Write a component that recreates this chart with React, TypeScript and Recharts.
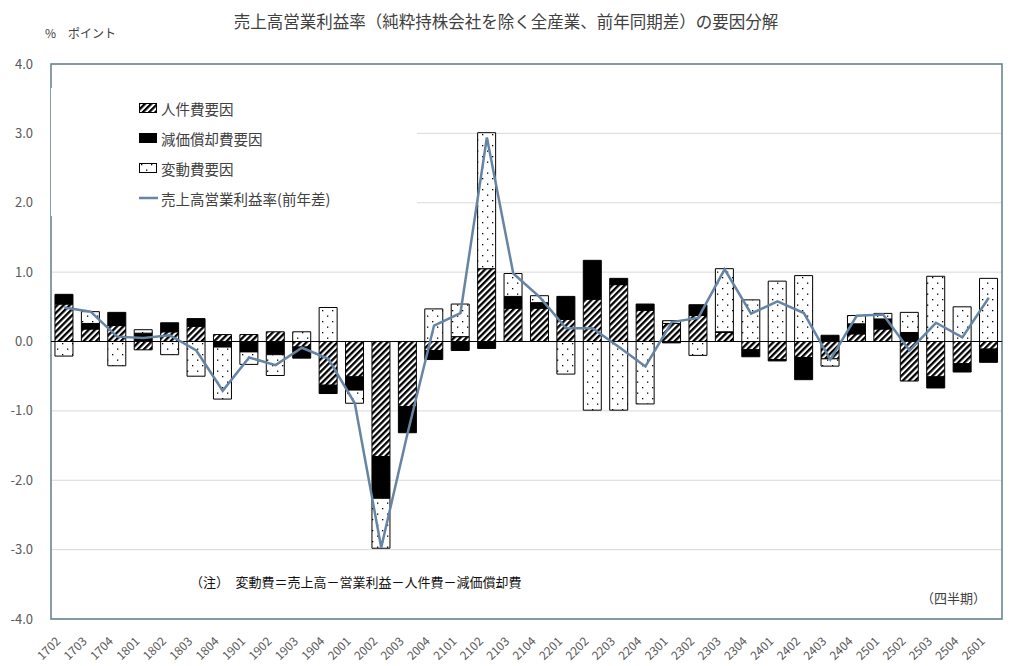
import {
  ComposedChart,
  Bar,
  Line,
  XAxis,
  YAxis,
  CartesianGrid,
  ReferenceLine,
  ReferenceArea,
  Legend,
} from "recharts";

const quarters = [
  "1702", "1703", "1704", "1801", "1802", "1803", "1804", "1901", "1902",
  "1903", "1904", "2001", "2002", "2003", "2004", "2101", "2102", "2103",
  "2104", "2201", "2202", "2203", "2204", "2301", "2302", "2303", "2304",
  "2401", "2402", "2403", "2404", "2501", "2502", "2503", "2504", "2601",
];

// 人件費要因
const laborCost = [
  0.54, 0.18, 0.23, -0.12, 0.14, 0.22, 0.1, 0.1, 0.14,
  -0.08, -0.63, -0.51, -1.66, -0.94, -0.13, 0.07, 1.05, 0.48,
  0.48, 0.32, 0.61, 0.82, 0.45, 0.26, 0.375, 0.13, -0.12,
  -0.26, -0.23, -0.25, 0.11, 0.18, -0.57, -0.51, -0.32, -0.11,
];

// 減価償却費要因
const depreciation = [
  0.14, 0.08, 0.19, 0.12, 0.13, 0.11, -0.08, -0.15, -0.19,
  -0.16, -0.12, -0.19, -0.6, -0.375, -0.13, -0.13, -0.1, 0.17,
  0.08, 0.33, 0.56, 0.09, 0.09, -0.02, 0.155, 0.01, -0.1,
  -0.02, -0.32, 0.09, 0.145, 0.145, 0.13, -0.16, -0.12, -0.19,
];

// 変動費要因
const variableCost = [
  -0.21, 0.17, -0.35, 0.05, -0.19, -0.5, -0.75, -0.18, -0.3,
  0.14, 0.49, -0.19, -0.72, 0, 0.47, 0.47, 1.96, 0.33,
  0.1, -0.47, -0.99, -0.99, -0.9, 0.04, -0.2, 0.91, 0.6,
  0.87, 0.95, -0.105, 0.12, 0.08, 0.29, 0.94, 0.5, 0.91,
];

// 売上高営業利益率（前年差）
const marginChange = [
  0.49, 0.43, 0.07, 0.05, 0.09, -0.13, -0.71, -0.23, -0.34,
  -0.09, -0.25, -0.89, -2.97, -1.32, 0.23, 0.41, 2.94, 0.98,
  0.64, 0.19, 0.19, -0.08, -0.36, 0.28, 0.34, 1.04, 0.4,
  0.58, 0.41, -0.26, 0.37, 0.39, -0.13, 0.27, 0.06, 0.63,
];

const yTicks = [-4, -3, -2, -1, 0, 1, 2, 3, 4];

const data = quarters.map((q, i) => ({
  q,
  labor: laborCost[i],
  dep: depreciation[i],
  variable: variableCost[i],
  margin: marginChange[i],
}));

const FONT = '"Noto Sans CJK JP", "Noto Sans", sans-serif';
const LINE_COLOR = "#6684a3";
const FRAME_COLOR = "#5f7f86";

function PatternDefs({ prefix }: { prefix: string }) {
  return (
    <defs>
      <pattern
        id={`${prefix}-hatch`}
        patternUnits="userSpaceOnUse"
        width="4.4"
        height="4.4"
        patternTransform="rotate(45)"
      >
        <rect width="4.4" height="4.4" fill="#fff" />
        <rect width="2.3" height="4.4" fill="#000" />
      </pattern>
      <pattern id={`${prefix}-dots`} patternUnits="userSpaceOnUse" width="10" height="11">
        <rect width="10" height="11" fill="#fff" />
        <rect x="2" y="2" width="1.3" height="1.3" fill="#000" />
        <rect x="7" y="7.5" width="1.3" height="1.3" fill="#000" />
      </pattern>
    </defs>
  );
}

const legendRows = [
  { label: "人件費要因", kind: "hatch" },
  { label: "減価償却費要因", kind: "solid" },
  { label: "変動費要因", kind: "dots" },
  { label: "売上高営業利益率(前年差)", kind: "line" },
];

function renderLegend() {
  return (
    <div style={{ position: "relative", width: 366, height: 128, background: "#fff" }}>
      {legendRows.map((row, i) => (
        <div
          key={row.label}
          style={{
            position: "absolute",
            left: 88,
            top: 10 + i * 30,
            height: 20,
            display: "flex",
            alignItems: "center",
            fontFamily: FONT,
            fontSize: 14.5,
            color: "#404040",
            whiteSpace: "nowrap",
          }}
        >
          <svg width={19} height={12} style={{ marginRight: 3 }}>
            <PatternDefs prefix={`lg${i}`} />
            {row.kind === "line" ? (
              <line x1={0} y1={6} x2={19} y2={6} stroke={LINE_COLOR} strokeWidth={2.5} />
            ) : (
              <rect
                x={0.5}
                y={1.5}
                width={17}
                height={9}
                fill={
                  row.kind === "solid"
                    ? "#000"
                    : row.kind === "hatch"
                    ? `url(#lg${i}-hatch)`
                    : `url(#lg${i}-dots)`
                }
                stroke="#000"
                strokeWidth={1}
              />
            )}
          </svg>
          {row.label}
        </div>
      ))}
    </div>
  );
}

function QuarterTick(props: any) {
  const { x, y, payload } = props;
  const tx = x - 3;
  const ty = y + 23;
  return (
    <text
      x={tx}
      y={ty}
      textAnchor="end"
      fill="#595959"
      fontSize={12}
      fontFamily={FONT}
      transform={`rotate(-45 ${tx} ${ty})`}
    >
      {payload.value}
    </text>
  );
}

export default function App() {
  return (
    <div style={{ position: "relative", width: 1014, height: 666, background: "#fff", fontFamily: FONT }}>
      <style>{"body{margin:0;}"}</style>
      <div
        style={{
          position: "absolute",
          left: 0,
          top: 9,
          width: 1012,
          textAlign: "center",
          fontSize: 16.5,
          color: "#404040",
          whiteSpace: "nowrap",
        }}
      >
        売上高営業利益率（純粋持株会社を除く全産業、前年同期差）の要因分解
      </div>
      <div
        style={{ position: "absolute", left: 45, top: 24, fontSize: 12, color: "#404040", whiteSpace: "nowrap" }}
      >
        %　ポイント
      </div>
      <ComposedChart
        width={1014}
        height={666}
        data={data}
        stackOffset="sign"
        barCategoryGap="15%"
        margin={{ top: 64, right: 12, bottom: 0, left: 0 }}
        style={{ overflow: "visible" }}
      >
        <PatternDefs prefix="ch" />
        <CartesianGrid vertical={false} stroke="#d9d9d9" />
        <XAxis
          dataKey="q"
          interval={0}
          height={47}
          axisLine={false}
          tickLine={false}
          tickSize={0}
          tickMargin={0}
          tick={<QuarterTick />}
        />
        <YAxis
          width={51}
          domain={[-4, 4]}
          ticks={yTicks}
          allowDataOverflow
          axisLine={false}
          tickLine={false}
          tickSize={0}
          tickMargin={18}
          tickFormatter={(v: number) => v.toFixed(1)}
          tick={{ fill: "#595959", fontSize: 13, fontFamily: FONT }}
        />
        <Bar dataKey="labor" stackId="f" fill="url(#ch-hatch)" stroke="#000" strokeWidth={1} isAnimationActive={false} />
        <Bar dataKey="dep" stackId="f" fill="#000" stroke="#000" strokeWidth={1} isAnimationActive={false} />
        <Bar dataKey="variable" stackId="f" fill="url(#ch-dots)" stroke="#000" strokeWidth={1} isAnimationActive={false} />
        <ReferenceLine y={0} stroke="#000" strokeWidth={1} />
        <Line
          type="linear"
          dataKey="margin"
          stroke={LINE_COLOR}
          strokeWidth={2.5}
          dot={false}
          activeDot={false}
          isAnimationActive={false}
        />
        <ReferenceArea y1={-4} y2={4} fill="none" stroke={FRAME_COLOR} strokeWidth={1.5} ifOverflow="visible" />
        <Legend
          layout="vertical"
          align="center"
          verticalAlign="middle"
          wrapperStyle={{ top: 88, left: 51, width: 366, height: 128 }}
          content={renderLegend}
        />
      </ComposedChart>
      <div
        style={{ position: "absolute", left: 190, top: 572, fontSize: 13, color: "#111", whiteSpace: "nowrap" }}
      >
        （注）　変動費＝売上高－営業利益－人件費－減価償却費
      </div>
      <div
        style={{ position: "absolute", left: 921, top: 588, fontSize: 13, color: "#404040", whiteSpace: "nowrap" }}
      >
        （四半期）
      </div>
    </div>
  );
}
